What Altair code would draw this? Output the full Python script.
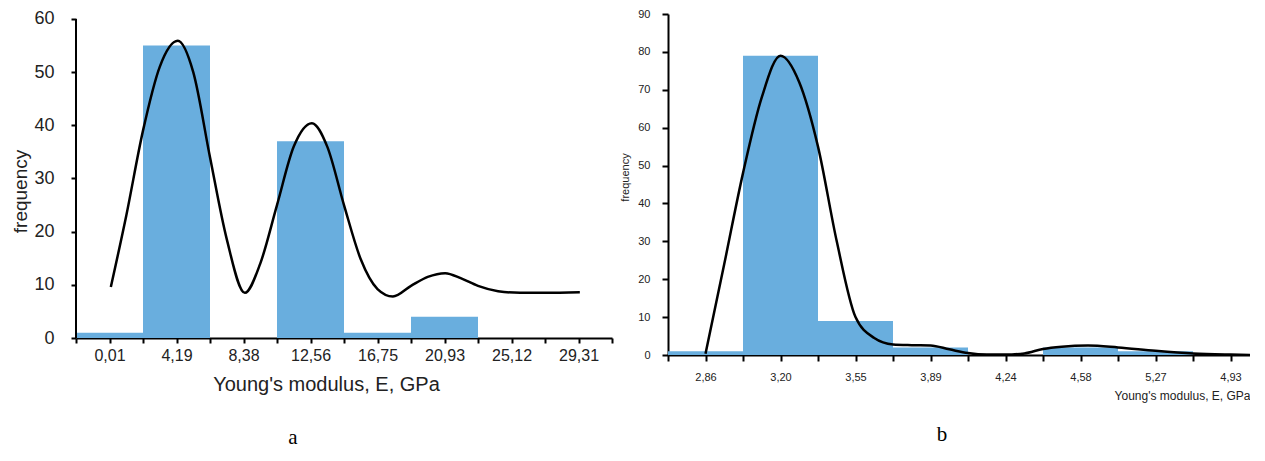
import json
import altair as alt
import pandas as pd

# ---------------- data ----------------
left_labels = ["0,01", "4,19", "8,38", "12,56", "16,75", "20,93", "25,12", "29,31"]
left_freq = [1, 55, 0, 37, 1, 4, 0, 0]
left_curve_pos = [0.52, 0.75, 1.0, 1.25, 1.52, 1.75, 2.0, 2.25, 2.52, 2.75, 3.0, 3.25,
                  3.52, 3.75, 4.0, 4.25, 4.5, 4.73, 5.0, 5.25, 5.51, 5.75, 6.0, 6.3,
                  6.63, 7.0, 7.52]
left_curve_val = [9.6, 23, 39, 51, 55.9, 50, 34, 18.6, 8.5, 14, 25, 36,
                  40.4, 36, 25, 14.8, 9.2, 7.8, 9.8, 11.5, 12.2, 11.2, 9.8, 8.8,
                  8.5, 8.5, 8.6]
left_yticks = [0, 10, 20, 30, 40, 50, 60]

right_labels = ["2,86", "3,20", "3,55", "3,89", "4,24", "4,58", "5,27", "4,93"]
right_freq = [1, 79, 9, 2, 0, 2, 1, 0]
right_curve_pos = [0.5, 0.75, 1.0, 1.25, 1.5, 1.75, 2.0, 2.25, 2.5, 2.75, 3.0, 3.25,
                   3.5, 3.75, 4.0, 4.25, 4.5, 4.75, 5.0, 5.25, 5.6, 6.0, 6.5, 7.0,
                   7.5, 7.76]
right_curve_val = [0.3, 24, 48, 68, 79, 72, 55, 30, 10, 4.5, 2.8, 2.6,
                   2.5, 1.5, 0.5, 0.1, 0.1, 0.4, 1.6, 2.2, 2.5, 2.0, 1.1, 0.4,
                   0.1, 0.0]
right_yticks = [0, 10, 20, 30, 40, 50, 60, 70, 80, 90]

BAR = "#69aede"
TXT = "#222222"
SANS = "Liberation Sans"


def bins(freq):
    return pd.DataFrame({"start": list(range(len(freq))),
                         "end": [i + 1 for i in range(len(freq))],
                         "base": [0] * len(freq),
                         "freq": freq})


def label_expr(labels):
    return ("datum.value % 1 == 0.5 ? " + json.dumps(labels) +
            "[floor(datum.value)] : ''")


# ---------------- left panel (a) ----------------
lx_scale = alt.Scale(domain=[0, 8], nice=False, zero=False)
ly_scale = alt.Scale(domain=[0, 60.94], nice=False)

lx_axis = alt.Axis(values=[i * 0.5 for i in range(17)], labelExpr=label_expr(left_labels),
                   tickSize=5, tickWidth=2, tickColor="black", domainColor="black",
                   domainWidth=2, labelFont=SANS, labelFontSize=16, labelColor=TXT,
                   labelPadding=4, labelOverlap=False, labelFlush=False,
                   title="Young's modulus, E, GPa", titleFont=SANS, titleFontSize=20,
                   titleFontWeight="normal", titleColor=TXT, titleX=250, titleY=46,
                   titleBaseline="middle", titleAlign="center")
ly_axis = alt.Axis(values=left_yticks, domain=False, tickSize=5, tickWidth=2,
                   tickColor="black", labelFont=SANS, labelFontSize=18,
                   labelColor=TXT, labelPadding=17, title="frequency",
                   titleFont=SANS, titleFontSize=19, titleFontWeight="normal",
                   titleColor=TXT, titleX=-56, titleY=177, titleBaseline="middle",
                   titleAlign="center", titleAngle=270)

l_bars = alt.Chart(bins(left_freq)).mark_bar(color=BAR, opacity=1).encode(
    x=alt.X("start:Q", scale=lx_scale, axis=lx_axis),
    x2="end:Q",
    y=alt.Y("freq:Q", scale=ly_scale, axis=ly_axis),
    y2="base:Q",
)
l_line = alt.Chart(pd.DataFrame({"pos": left_curve_pos, "val": left_curve_val})).mark_line(
    color="black", strokeWidth=2.5, interpolate="monotone").encode(
    x=alt.X("pos:Q", scale=lx_scale, axis=lx_axis),
    y=alt.Y("val:Q", scale=ly_scale, axis=ly_axis),
)
l_rule = alt.Chart(pd.DataFrame({"y0": [0], "y1": [60]})).mark_rule(
    color="black", strokeWidth=2).encode(
    x=alt.value(0),
    y=alt.Y("y0:Q", scale=ly_scale, axis=ly_axis),
    y2="y1:Q",
)
l_cap = alt.Chart(pd.DataFrame({"t": ["a"]})).mark_text(
    font="Liberation Serif", fontSize=21, color="black", align="center",
    baseline="alphabetic").encode(text="t:N", x=alt.value(217), y=alt.value(430))

left = alt.layer(l_bars, l_line, l_rule, l_cap).properties(width=536, height=324)

# ---------------- right panel (b) ----------------
RW = 582
rx_scale = alt.Scale(domain=[0, RW / 75.0], nice=False, zero=False)
ry_scale = alt.Scale(domain=[0, 90], nice=False)

rx_axis = alt.Axis(values=[i * 0.5 for i in range(16)], labelExpr=label_expr(right_labels),
                   tickSize=6, tickWidth=2, tickColor="black", domainColor="black",
                   domainWidth=2, labelFont=SANS, labelFontSize=11, labelColor=TXT,
                   labelPadding=10, labelOverlap=False, labelFlush=False,
                   title="Young's modulus, E, GPa", titleFont=SANS, titleFontSize=12,
                   titleFontWeight="normal", titleColor=TXT, titleX=RW, titleY=40,
                   titleBaseline="middle", titleAlign="right")
ry_axis = alt.Axis(values=right_yticks, tickSize=6, tickWidth=2, tickColor="black",
                   domainColor="black", domainWidth=2, labelFont=SANS,
                   labelFontSize=11, labelColor=TXT, labelPadding=12,
                   title="frequency", titleFont=SANS, titleFontSize=11,
                   titleFontWeight="normal", titleColor=TXT, titleX=-43, titleY=163,
                   titleBaseline="middle", titleAlign="center", titleAngle=270)

r_bars = alt.Chart(bins(right_freq)).mark_bar(color=BAR, opacity=1, clip=True).encode(
    x=alt.X("start:Q", scale=rx_scale, axis=rx_axis),
    x2="end:Q",
    y=alt.Y("freq:Q", scale=ry_scale, axis=ry_axis),
    y2="base:Q",
)
r_line = alt.Chart(pd.DataFrame({"pos": right_curve_pos, "val": right_curve_val})).mark_line(
    color="black", strokeWidth=2.5, interpolate="monotone", clip=True).encode(
    x=alt.X("pos:Q", scale=rx_scale, axis=rx_axis),
    y=alt.Y("val:Q", scale=ry_scale, axis=ry_axis),
)
r_cap = alt.Chart(pd.DataFrame({"t": ["b"]})).mark_text(
    font="Liberation Serif", fontSize=21, color="black", align="center",
    baseline="alphabetic").encode(text="t:N", x=alt.value(274), y=alt.value(427))

right = alt.layer(r_bars, r_line, r_cap).properties(width=RW, height=341)

chart = alt.hconcat(left, right, spacing=56, bounds="flush").properties(
    padding={"left": 3, "top": 0, "right": 0, "bottom": 0}
).configure_view(stroke=None).configure_axis(grid=False)

chart.save("out.html", embed_options={"renderer": "svg", "actions": False})
